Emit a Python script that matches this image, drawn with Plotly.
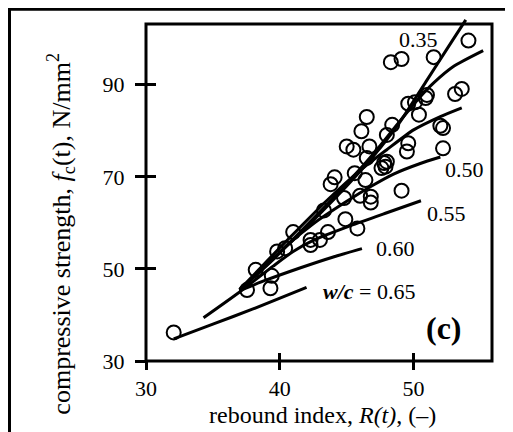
import plotly.graph_objects as go

# ---------------- data ----------------
rebound = [32.07, 37.55, 38.2, 39.3, 39.4, 39.8, 40.4, 41.0, 42.3, 42.3,
           43.0, 43.6, 43.3, 43.8, 44.1, 44.8, 44.9, 45.0, 45.5, 45.6,
           45.8, 46.0, 46.1, 46.5, 46.4, 46.5, 46.7, 46.8, 46.8, 47.8,
           47.9, 47.6, 48.0, 48.0, 48.4, 48.3, 49.1, 49.1, 49.5, 49.6,
           49.6, 50.1, 50.4, 50.9, 51.0, 51.5, 52.0, 52.2, 52.2, 53.1,
           53.6, 54.1]
strength = [36.2, 45.4, 49.8, 45.8, 48.5, 53.8, 54.5, 58.0, 56.3, 55.2,
            56.3, 58.0, 62.7, 68.4, 69.9, 65.4, 60.8, 76.6, 75.9, 70.8,
            58.8, 65.9, 79.9, 83.0, 69.3, 74.1, 76.6, 65.7, 64.4, 73.0,
            72.2, 71.9, 73.3, 79.1, 81.3, 94.9, 95.6, 67.0, 75.5, 77.3,
            85.9, 86.2, 83.5, 87.1, 87.8, 96.0, 81.1, 80.6, 76.2, 88.0,
            89.1, 99.6]

wc_labels = ["0.35", "0.40", "0.45", "0.50", "0.55", "0.60", "0.65"]
curve_R = {
    "0.35": [37.0, 39.0, 41.0, 43.0, 45.0, 47.0, 49.0, 51.0, 52.5, 53.9],
    "0.40": [37.0, 39.0, 41.0, 43.0, 45.0, 47.0, 49.0, 50.5, 51.5, 53.0, 55.2],
    "0.45": [37.0, 40.0, 41.5, 43.5, 46.0, 48.0, 50.0, 52.0, 53.6],
    "0.50": [37.0, 39.5, 40.5, 42.5, 44.8, 46.8, 48.5, 50.5, 52.0],
    "0.55": [34.3, 37.0, 39.5, 41.0, 42.5, 45.3, 48.0, 50.55],
    "0.60": [37.0, 39.0, 41.5, 44.0, 46.14],
    "0.65": [32.07, 35.0, 38.0, 42.0],
}
curve_fc = {
    "0.35": [45.5, 50.8, 56.3, 62.0, 68.0, 74.5, 82.0, 91.0, 97.8, 104.1],
    "0.40": [45.5, 50.9, 56.5, 62.4, 68.5, 75.0, 82.2, 87.4, 90.4, 94.0, 97.4],
    "0.45": [45.5, 54.6, 59.0, 64.8, 71.4, 75.9, 80.2, 83.1, 85.0],
    "0.50": [45.4, 52.0, 55.0, 59.8, 64.3, 67.9, 70.6, 72.9, 74.3],
    "0.55": [39.4, 45.0, 50.6, 53.8, 56.2, 59.4, 62.2, 64.8],
    "0.60": [45.3, 47.6, 50.2, 52.6, 54.4],
    "0.65": [34.8, 38.0, 41.3, 46.0],
}

x_ticks = [30, 40, 50]
y_ticks = [30, 50, 70, 90]

FONT = "Liberation Serif"
X_RANGE = [30, 55.86]
Y_RANGE = [30, 104.5]
Y_FRAME_TOP = 103.2

fig = go.Figure()

for wc in wc_labels:
    fig.add_trace(go.Scatter(
        x=curve_R[wc], y=curve_fc[wc], mode="lines",
        line=dict(color="black", width=3, shape="spline", smoothing=0.6),
        showlegend=False, hoverinfo="skip"))

fig.add_trace(go.Scatter(
    x=rebound, y=strength, mode="markers",
    marker=dict(symbol="circle-open", size=14, color="black",
                line=dict(width=2, color="black")),
    showlegend=False))

# helper trace so overlay axes (inner tick halves) are drawn
fig.add_trace(go.Scatter(x=[None], y=[None], xaxis="x2", yaxis="y2",
                         showlegend=False, hoverinfo="skip"))

tickfont = dict(family=FONT, size=22, color="black")
common = dict(showgrid=False, zeroline=False, showline=False,
              tickcolor="black", tickwidth=3)

fig.update_layout(
    width=505, height=424,
    margin=dict(l=138, r=21, t=10, b=71),
    paper_bgcolor="white", plot_bgcolor="white",
    xaxis=dict(range=X_RANGE, tickvals=x_ticks, ticks="outside", ticklen=8,
               tickfont=tickfont, ticklabelstandoff=0, **common),
    yaxis=dict(range=Y_RANGE, tickvals=y_ticks, ticks="outside", ticklen=10,
               tickfont=tickfont, ticklabelstandoff=6, **common),
    xaxis2=dict(range=X_RANGE, tickvals=x_ticks, ticks="inside", ticklen=8,
                showticklabels=False, overlaying="x", anchor="y", side="bottom",
                **common),
    yaxis2=dict(range=Y_RANGE, tickvals=y_ticks, ticks="inside", ticklen=10,
                showticklabels=False, overlaying="y", anchor="x", side="left",
                **common),
)

# plot frame
fig.add_shape(type="rect", xref="x domain", yref="y domain",
              x0=0, x1=1, y0=0,
              y1=(Y_FRAME_TOP - Y_RANGE[0]) / (Y_RANGE[1] - Y_RANGE[0]),
              line=dict(color="black", width=3), layer="above")
# outer image border (top and left visible)
fig.add_shape(type="rect", xref="paper", yref="paper",
              x0=-0.3945, x1=2, y0=-1, y1=1.0257,
              line=dict(color="black", width=3), layer="above")

lab = dict(family=FONT, size=22, color="black")
fig.add_annotation(x=50.37, y=99.9, text="0.35", showarrow=False, font=lab)
fig.add_annotation(x=53.79, y=71.7, text="0.50", showarrow=False, font=lab)
fig.add_annotation(x=52.47, y=62.1, text="0.55", showarrow=False, font=lab)
fig.add_annotation(x=48.65, y=54.5, text="0.60", showarrow=False, font=lab)
fig.add_annotation(x=46.64, y=45.1, text="<b><i>w/c</i></b> = 0.65",
                   showarrow=False, font=lab)
fig.add_annotation(x=52.29, y=37.1, text="<b>(c)</b>", showarrow=False,
                   font=dict(family=FONT, size=32, color="black"))

# axis titles
fig.add_annotation(xref="paper", yref="paper", x=0.5095, y=-0.157,
                   text="rebound index, <i>R(t)</i>, (–)", showarrow=False,
                   xanchor="center", yanchor="middle",
                   font=dict(family=FONT, size=24, color="black"))
fig.add_annotation(xref="paper", yref="paper", x=-0.245, y=0.372,
                   text="compressive strength, <i>f</i><sub>c</sub>(t), N/mm<sup>2</sup>",
                   showarrow=False, textangle=-90,
                   xanchor="center", yanchor="middle",
                   font=dict(family=FONT, size=26, color="black"))

fig.write_html("out.html")
